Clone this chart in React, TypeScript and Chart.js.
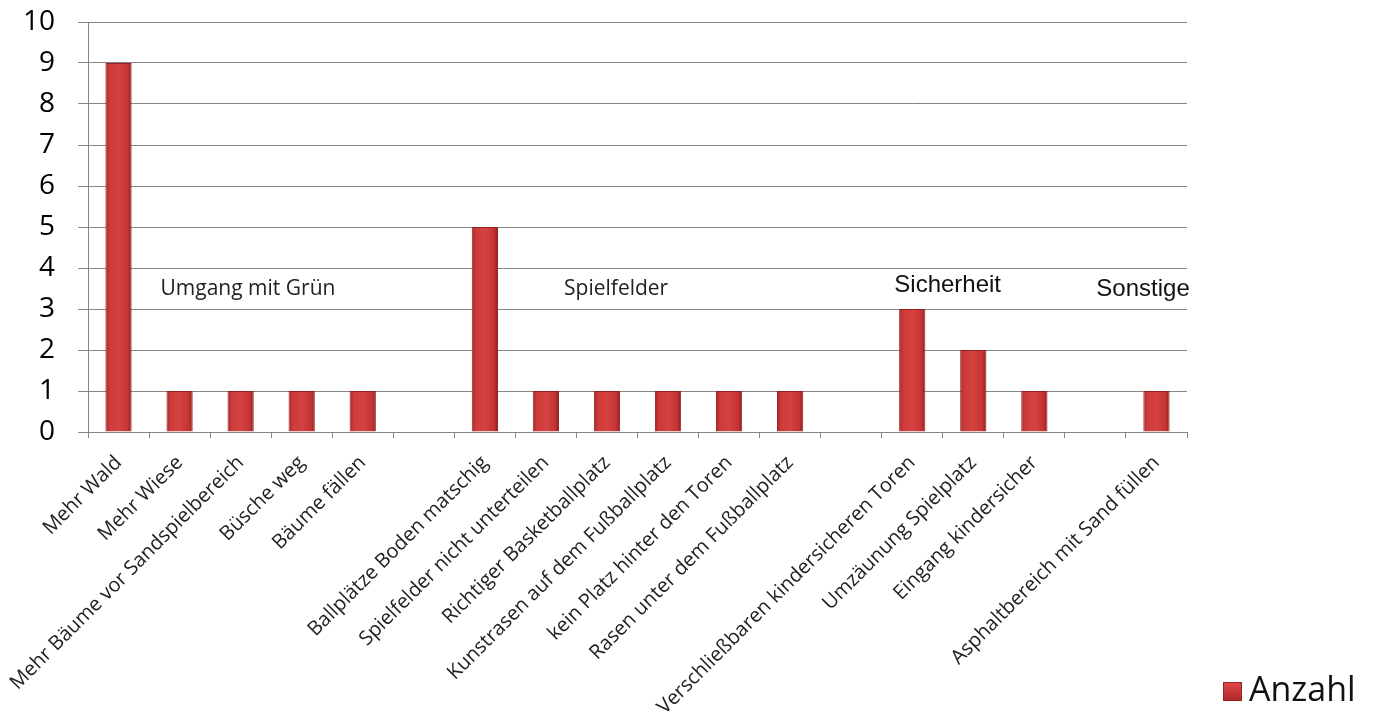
import React, { useEffect, useRef } from "react";
import { Chart, registerables } from "chart.js";

Chart.register(...registerables);

const categories: string[] = [
  "Mehr Wald",
  "Mehr Wiese",
  "Mehr Bäume vor Sandspielbereich",
  "Büsche weg",
  "Bäume fällen",
  "",
  "Ballplätze Boden matschig",
  "Spielfelder nicht unterteilen",
  "Richtiger Basketballplatz",
  "Kunstrasen auf dem Fußballplatz",
  "kein Platz hinter den Toren",
  "Rasen unter dem Fußballplatz",
  "",
  "Verschließbaren kindersicheren Toren",
  "Umzäunung Spielplatz",
  "Eingang kindersicher",
  "",
  "Asphaltbereich mit Sand füllen",
];

const anzahl: (number | null)[] = [9, 1, 1, 1, 1, null, 5, 1, 1, 1, 1, 1, null, 3, 2, 1, null, 1];

const seriesLabel = "Anzahl";

const yMin = 0;
const yMax = 10;
const yStep = 1;

const groupLabels: string[] = ["Umgang mit Grün", "Spielfelder", "Sicherheit", "Sonstige"];

const BAR_PCT = 0.43;

const groupLabelPlugin = {
  id: "groupLabels",
  afterDatasetsDraw(chart: any) {
    const { ctx, scales } = chart;
    const xs = scales.x;
    const ys = scales.y;
    const spots = [
      { i: 2.12, v: 3.49, font: "21px 'Open Sans'", color: "#222" },
      { i: 8.15, v: 3.49, font: "21px 'Open Sans'", color: "#222" },
      { i: 13.58, v: 3.58, font: "24px 'Liberation Sans'", color: "#111" },
      { i: 16.78, v: 3.49, font: "24px 'Liberation Sans'", color: "#111" },
    ];
    const step = xs.getPixelForValue(1) - xs.getPixelForValue(0);
    ctx.save();
    ctx.textAlign = "center";
    ctx.textBaseline = "middle";
    groupLabels.forEach((t, k) => {
      const s = spots[k];
      const x = xs.getPixelForValue(0) + s.i * step;
      const y = ys.getPixelForValue(s.v);
      ctx.font = s.font;
      ctx.fillStyle = s.color;
      ctx.fillText(t, x, y);
    });
    ctx.restore();
  },
};

const legendPlugin = {
  id: "customLegend",
  afterDraw(chart: any) {
    const { ctx } = chart;
    const label = chart.data.datasets[0].label;
    const sx = 1223;
    const sy = 682;
    const size = 19;
    ctx.save();
    const g = ctx.createLinearGradient(sx, sy, sx, sy + size);
    g.addColorStop(0, "#E04848");
    g.addColorStop(1, "#B02828");
    ctx.fillStyle = g;
    ctx.fillRect(sx, sy, size, size);
    ctx.strokeStyle = "#9A2222";
    ctx.lineWidth = 1;
    ctx.strokeRect(sx + 0.5, sy + 0.5, size - 1, size - 1);
    ctx.font = "34px 'Open Sans'";
    ctx.fillStyle = "#111";
    ctx.textAlign = "left";
    ctx.textBaseline = "middle";
    ctx.fillText(label, 1249, sy + size / 2);
    ctx.restore();
  },
};

export default function App() {
  const ref = useRef<HTMLCanvasElement | null>(null);

  useEffect(() => {
    if (!ref.current) return;
    const chart = new Chart(ref.current, {
      type: "bar",
      data: {
        labels: categories,
        datasets: [
          {
            label: seriesLabel,
            data: anzahl as any,
            barPercentage: BAR_PCT,
            categoryPercentage: 1,
            borderColor: "#962020",
            borderWidth: 1,
            backgroundColor: (c: any) => {
              const chart = c.chart;
              const xs = chart.scales && chart.scales.x;
              if (!xs || !chart.chartArea || c.dataIndex === undefined) return "#C83636";
              const cx = xs.getPixelForValue(c.dataIndex);
              const w = (xs.width / categories.length) * BAR_PCT;
              const g = chart.ctx.createLinearGradient(cx - w / 2, 0, cx + w / 2, 0);
              g.addColorStop(0, "#A82424");
              g.addColorStop(0.15, "#CC3A3A");
              g.addColorStop(0.5, "#D54242");
              g.addColorStop(0.85, "#C43434");
              g.addColorStop(1, "#8E1C1C");
              return g;
            },
          },
        ],
      },
      options: {
        animation: false,
        responsive: true,
        maintainAspectRatio: false,
        layout: { padding: { top: 22, right: 186, left: 0, bottom: 0 } },
        plugins: {
          legend: { display: false },
          tooltip: { enabled: false },
        },
        scales: {
          x: {
            type: "category",
            offset: true,
            grid: {
              display: true,
              drawOnChartArea: false,
              drawTicks: true,
              tickLength: 6,
              color: "#868686",
              offset: true,
            },
            border: { color: "#868686" },
            ticks: {
              autoSkip: false,
              maxRotation: 45,
              minRotation: 45,
              padding: 13,
              color: "#222",
              font: { family: "'Open Sans'", size: 20 },
            },
            afterFit: (s: any) => {
              s.height = 284;
              s.paddingLeft = 0;
              s.paddingRight = 0;
            },
          },
          y: {
            min: yMin,
            max: yMax,
            ticks: {
              stepSize: yStep,
              padding: 23,
              color: "#000",
              font: { family: "'Open Sans'", size: 28 },
            },
            grid: { color: "#868686", tickLength: 10 },
            border: { color: "#868686" },
            afterFit: (s: any) => {
              s.width = 88;
              s.paddingTop = 0;
              s.paddingBottom = 0;
            },
          },
        },
      },
      plugins: [groupLabelPlugin, legendPlugin],
    });
    return () => chart.destroy();
  }, []);

  return (
    <div style={{ position: "fixed", left: 0, top: 0, width: 1373, height: 716, background: "#fff" }}>
      <canvas ref={ref} />
    </div>
  );
}
